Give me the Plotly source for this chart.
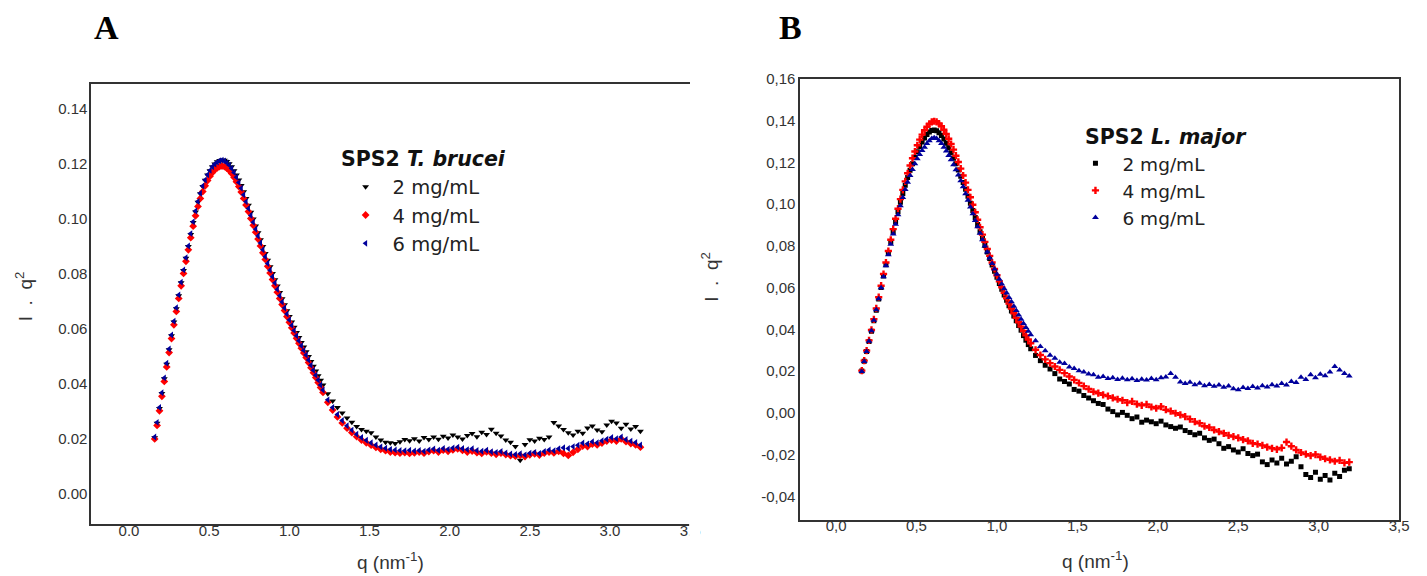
import plotly.graph_objects as go

# Scattering vector q (nm^-1), shared by both panels
Q = [
    0.160, 0.175, 0.190, 0.205, 0.220, 0.235, 0.250, 0.265, 0.280, 0.295, 0.310,
    0.325, 0.340, 0.355, 0.370, 0.385, 0.400, 0.415, 0.430, 0.445, 0.460, 0.475,
    0.490, 0.505, 0.520, 0.535, 0.550, 0.565, 0.580, 0.595, 0.610, 0.625, 0.640,
    0.655, 0.670, 0.685, 0.700, 0.715, 0.730, 0.745, 0.760, 0.775, 0.790, 0.805,
    0.820, 0.835, 0.850, 0.865, 0.880, 0.895, 0.910, 0.925, 0.940, 0.955, 0.970,
    0.985, 1.000, 1.015, 1.030, 1.045, 1.060, 1.075, 1.090, 1.105, 1.120, 1.135,
    1.150, 1.165, 1.180, 1.195, 1.210,
    1.24, 1.27, 1.30, 1.33, 1.36, 1.39, 1.42, 1.45, 1.48, 1.51, 1.54,
    1.57, 1.60, 1.63, 1.66, 1.69, 1.72, 1.75, 1.78, 1.81, 1.84, 1.87,
    1.90, 1.93, 1.96, 1.99, 2.02, 2.05, 2.08, 2.11, 2.14, 2.17, 2.20,
    2.23, 2.26, 2.29, 2.32, 2.35, 2.38, 2.41, 2.44, 2.47, 2.50, 2.53,
    2.56, 2.59, 2.62, 2.65, 2.68, 2.71, 2.74, 2.77, 2.80, 2.83, 2.86,
    2.89, 2.92, 2.95, 2.98, 3.01, 3.04, 3.07, 3.10, 3.13, 3.16, 3.19,
]

# Kratky values I.q^2 -- SPS2 T. brucei
TB_2 = [
    .0202, .0255, .0309, .0363, .0417, .0470, .0522, .0573, .0623, .0672, .0719,
    .0766, .0811, .0855, .0898, .0942, .0985, .1024, .1059, .1090, .1116, .1139,
    .1158, .1174, .1188, .1198, .1206, .1211, .1213, .1212, .1207, .1199, .1188,
    .1174, .1158, .1140, .1120, .1097, .1073, .1048, .1023, .0998, .0973, .0948,
    .0923, .0898, .0873, .0848, .0824, .0800, .0777, .0754, .0731, .0708, .0686,
    .0664, .0643, .0623, .0604, .0585, .0567, .0549, .0532, .0515, .0498, .0480,
    .0462, .0445, .0428, .0411, .0394,
    .0362, .0336, .0312, .0292, .0274, .0259, .0243, .0232, .0226, .0220, .0205,
    .0194, .0186, .0184, .0181, .0188, .0196, .0191, .0199, .0190, .0203, .0196,
    .0205, .0197, .0208, .0201, .0212, .0205, .0198, .0210, .0218, .0206, .0222,
    .0214, .0233, .0219, .0209, .0194, .0186, .0170, .0120, .0178, .0195, .0190,
    .0200, .0196, .0205, .0258, .0245, .0232, .0220, .0212, .0226, .0219, .0238,
    .0245, .0230, .0224, .0249, .0262, .0256, .0237, .0251, .0234, .0243, .0226,
]
TB_4 = [
    .0198, .0247, .0300, .0353, .0407, .0460, .0512, .0563, .0613, .0662, .0709,
    .0755, .0800, .0844, .0886, .0930, .0972, .1010, .1044, .1073, .1098, .1119,
    .1138, .1154, .1167, .1177, .1184, .1189, .1191, .1189, .1183, .1175, .1164,
    .1150, .1134, .1116, .1096, .1073, .1049, .1025, .1000, .0975, .0950, .0925,
    .0900, .0875, .0851, .0826, .0802, .0778, .0755, .0732, .0709, .0687, .0665,
    .0643, .0622, .0602, .0583, .0564, .0546, .0528, .0511, .0494, .0476, .0457,
    .0439, .0421, .0403, .0385, .0367,
    .0331, .0303, .0278, .0256, .0237, .0221, .0206, .0194, .0184, .0175, .0167,
    .0160, .0155, .0150, .0148, .0146, .0148, .0145, .0147, .0150, .0146, .0152,
    .0155, .0150, .0157, .0153, .0158, .0162, .0156, .0150, .0154, .0148, .0145,
    .0151, .0146, .0142, .0146, .0141, .0137, .0135, .0138, .0134, .0140, .0144,
    .0139, .0146, .0150, .0147, .0153, .0145, .0138, .0149, .0160, .0172, .0170,
    .0179, .0176, .0183, .0190, .0194, .0190, .0198, .0188, .0181, .0176, .0168,
]
TB_6 = [
    .0205, .0258, .0312, .0366, .0420, .0473, .0525, .0576, .0626, .0675, .0722,
    .0768, .0813, .0857, .0900, .0945, .0988, .1027, .1062, .1092, .1118, .1140,
    .1159, .1175, .1188, .1198, .1205, .1210, .1212, .1209, .1203, .1194, .1182,
    .1167, .1150, .1131, .1110, .1086, .1061, .1036, .1011, .0986, .0961, .0936,
    .0911, .0886, .0861, .0836, .0812, .0788, .0765, .0742, .0719, .0696, .0674,
    .0652, .0631, .0611, .0592, .0573, .0555, .0537, .0520, .0503, .0485, .0466,
    .0448, .0430, .0412, .0394, .0376,
    .0340, .0312, .0287, .0265, .0246, .0230, .0215, .0203, .0193, .0184, .0176,
    .0169, .0164, .0160, .0158, .0156, .0155, .0157, .0154, .0156, .0153, .0158,
    .0161, .0157, .0163, .0160, .0165, .0168, .0163, .0159, .0162, .0156, .0153,
    .0157, .0151, .0149, .0152, .0147, .0143, .0141, .0144, .0140, .0146, .0149,
    .0145, .0152, .0158, .0155, .0162, .0166, .0163, .0170, .0175, .0183, .0180,
    .0188, .0184, .0191, .0197, .0203, .0199, .0205, .0196, .0190, .0185, .0176,
]

# Kratky values I.q^2 -- SPS2 L. major
LM_2 = [
    .0200, .0247, .0294, .0342, .0391, .0441, .0492, .0545, .0600, .0655, .0710,
    .0765, .0818, .0868, .0917, .0964, .1009, .1051, .1090, .1127, .1162, .1194,
    .1224, .1251, .1276, .1298, .1317, .1333, .1345, .1353, .1355, .1351, .1342,
    .1329, .1312, .1292, .1270, .1246, .1220, .1193, .1164, .1134, .1103, .1071,
    .1038, .1004, .0970, .0936, .0902, .0868, .0835, .0802, .0770, .0739, .0708,
    .0678, .0649, .0620, .0592, .0565, .0539, .0513, .0488, .0464, .0441, .0418,
    .0396, .0370, .0348, .0327, .0307,
    .0275, .0250, .0228, .0210, .0188, .0162, .0150, .0138, .0112, .0104, .0083,
    .0071, .0058, .0045, .0040, .0018, .0006, -.0010, .0002, -.0012, -.0028, -.0020,
    -.0045, -.0035, -.0043, -.0052, -.0040, -.0058, -.0066, -.0074, -.0068, -.0085, -.0094,
    -.0105, -.0098, -.0120, -.0132, -.0126, -.0148, -.0170, -.0162, -.0178, -.0188, -.0172,
    -.0195, -.0205, -.0198, -.0235, -.0248, -.0226, -.0240, -.0218, -.0245, -.0232, -.0210,
    -.0258, -.0295, -.0310, -.0285, -.0318, -.0300, -.0322, -.0290, -.0305, -.0275, -.0268,
]
LM_4 = [
    .0202, .0250, .0298, .0347, .0397, .0448, .0500, .0554, .0609, .0665, .0720,
    .0775, .0829, .0880, .0930, .0978, .1024, .1068, .1109, .1148, .1185, .1220,
    .1252, .1282, .1309, .1333, .1354, .1371, .1385, .1394, .1397, .1394, .1386,
    .1373, .1356, .1336, .1313, .1288, .1261, .1232, .1202, .1170, .1137, .1103,
    .1068, .1033, .0997, .0961, .0925, .0889, .0854, .0819, .0785, .0752, .0720,
    .0689, .0659, .0630, .0602, .0575, .0549, .0524, .0500, .0477, .0455, .0434,
    .0413, .0392, .0371, .0351, .0333,
    .0302, .0277, .0256, .0238, .0222, .0206, .0190, .0174, .0158, .0143, .0128,
    .0114, .0101, .0094, .0086, .0080, .0072, .0065, .0060, .0049, .0055, .0042,
    .0036, .0040, .0028, .0022, .0030, .0015, .0008, -.0002, -.0010, -.0018, -.0030,
    -.0042, -.0050, -.0064, -.0070, -.0082, -.0090, -.0098, -.0108, -.0114, -.0120, -.0128,
    -.0134, -.0146, -.0150, -.0156, -.0164, -.0170, -.0175, -.0168, -.0140, -.0160, -.0178,
    -.0190, -.0198, -.0205, -.0200, -.0212, -.0220, -.0225, -.0232, -.0228, -.0240, -.0236,
]
LM_6 = [
    .0198, .0246, .0294, .0343, .0393, .0443, .0494, .0546, .0599, .0652, .0705,
    .0757, .0808, .0857, .0904, .0949, .0992, .1032, .1070, .1105, .1137, .1166,
    .1193, .1217, .1238, .1257, .1273, .1290, .1304, .1314, .1318, .1314, .1304,
    .1290, .1273, .1254, .1233, .1212, .1189, .1165, .1139, .1112, .1083, .1050,
    .1018, .0986, .0954, .0922, .0891, .0860, .0829, .0799, .0770, .0742, .0715,
    .0689, .0664, .0640, .0617, .0595, .0574, .0553, .0532, .0511, .0490, .0469,
    .0448, .0428, .0409, .0391, .0374,
    .0345, .0318, .0298, .0276, .0262, .0242, .0236, .0220, .0212, .0201, .0196,
    .0186, .0182, .0170, .0174, .0165, .0168, .0160, .0166, .0158, .0163, .0155,
    .0161, .0157, .0164, .0159, .0168, .0172, .0188, .0170, .0148, .0140, .0146,
    .0135, .0142, .0130, .0136, .0127, .0133, .0122, .0128, .0115, .0110, .0121,
    .0116, .0126, .0119, .0130, .0124, .0135, .0128, .0140, .0133, .0150, .0145,
    .0170, .0160, .0182, .0168, .0185, .0178, .0196, .0222, .0205, .0188, .0176,
]

CONC_LABELS = ["2 mg/mL", "4 mg/mL", "6 mg/mL"]
X_TICKS = [0.0, 0.5, 1.0, 1.5, 2.0, 2.5, 3.0, 3.5]
Y_TICKS_A = [0.00, 0.02, 0.04, 0.06, 0.08, 0.10, 0.12, 0.14]
Y_TICKS_B = [-0.04, -0.02, 0.00, 0.02, 0.04, 0.06, 0.08, 0.10, 0.12, 0.14, 0.16]

for series in (TB_2, TB_4, TB_6, LM_2, LM_4, LM_6):
    assert len(series) == len(Q)

W, H = 1427, 576
BLACK, RED, NAVY = "#000000", "#ff0000", "#00009c"
TICK_FONT = dict(family="Liberation Sans, Arial, sans-serif", size=15, color="#333333")
LEG_FONT = "DejaVu Sans, sans-serif"


def px(x):
    return x / W


def py(y):
    return 1 - y / H


fig = go.Figure()

panel_a = [(TB_2, BLACK, "triangle-down", 6), (TB_4, RED, "diamond", 6), (TB_6, NAVY, "triangle-left", 6)]
for (vals, col, sym, size), name in zip(panel_a, CONC_LABELS):
    fig.add_trace(go.Scatter(
        x=Q, y=vals, mode="markers", name=name, xaxis="x", yaxis="y", legend="legend",
        marker=dict(color=col, symbol=sym, size=size, line=dict(width=0)),
    ))

panel_b = [(LM_2, BLACK, "square", 5), (LM_4, RED, "cross", 6), (LM_6, NAVY, "triangle-up", 6)]
for (vals, col, sym, size), name in zip(panel_b, CONC_LABELS):
    fig.add_trace(go.Scatter(
        x=Q, y=vals, mode="markers", name=name, xaxis="x2", yaxis="y2", legend="legend2",
        marker=dict(color=col, symbol=sym, size=size, line=dict(width=0)),
    ))

axis_common = dict(
    showgrid=False, zeroline=False, showline=True, linecolor="#333333", linewidth=2,
    ticks="", tickfont=TICK_FONT,
)

fig.update_layout(
    width=W, height=H,
    margin=dict(l=0, r=0, t=0, b=0),
    paper_bgcolor="white", plot_bgcolor="white",
    xaxis=dict(
        axis_common, domain=[px(92), px(695)], range=[-0.235, 3.5], anchor="y",
        tickvals=X_TICKS, ticktext=[f"{v:.1f}" for v in X_TICKS], mirror=True,
        ticklabelstandoff=-8,
    ),
    yaxis=dict(
        axis_common, domain=[py(523), py(76)], range=[-0.0111, 0.149], anchor="x",
        tickvals=Y_TICKS_A, ticktext=[f"{v:.2f}" for v in Y_TICKS_A], mirror=False,
        ticklabelstandoff=-1,
    ),
    xaxis2=dict(
        axis_common, domain=[px(806), px(1409)], range=[-0.222, 3.5], anchor="y2",
        tickvals=X_TICKS, ticktext=[f"{v:.1f}".replace(".", ",") for v in X_TICKS], mirror=True,
        ticklabelstandoff=-9,
    ),
    yaxis2=dict(
        axis_common, domain=[py(519), py(71)], range=[-0.0513, 0.16], anchor="x2",
        tickvals=Y_TICKS_B, ticktext=[f"{v:.2f}".replace(".", ",") for v in Y_TICKS_B], mirror=True,
    ),
    legend=dict(
        x=px(341), y=py(161), xanchor="left", yanchor="top",
        font=dict(family=LEG_FONT, size=19.5, color="#222222"),
        bgcolor="rgba(0,0,0,0)", borderwidth=0, itemwidth=44, tracegroupgap=0,
    ),
    legend2=dict(
        x=px(1076), y=py(138), xanchor="left", yanchor="top",
        font=dict(family=LEG_FONT, size=18.5, color="#222222"),
        bgcolor="rgba(0,0,0,0)", borderwidth=0, itemwidth=44, tracegroupgap=0,
    ),
    showlegend=True,
)

# right half of the clipped 3.5 label on panel A
fig.add_shape(
    type="rect", xref="paper", yref="paper",
    x0=px(694), x1=px(705), y0=py(552), y1=py(520),
    fillcolor="white", line=dict(width=0), layer="above",
)

AX_TITLE_FONT = dict(family="Liberation Sans, Arial, sans-serif", size=19, color="#333333")
Y_TITLE = "I\u00a0\u00a0.\u00a0\u00a0q<sup>2</sup>"
annotations = [
    dict(text="<b>A</b>", x=px(107), y=py(19),
         font=dict(family="Liberation Serif, Times New Roman, serif", size=34, color="black")),
    dict(text="<b>B</b>", x=px(796), y=py(19),
         font=dict(family="Liberation Serif, Times New Roman, serif", size=34, color="black")),
    dict(text=Y_TITLE, x=px(25), y=py(292), textangle=-90, font=AX_TITLE_FONT),
    dict(text=Y_TITLE, x=px(715), y=py(272), textangle=-90, font=AX_TITLE_FONT),
    dict(text="q (nm<sup>-1</sup>)", x=px(393), y=py(561), font=AX_TITLE_FONT),
    dict(text="q (nm<sup>-1</sup>)", x=px(1103), y=py(560), font=AX_TITLE_FONT),
    dict(text="<b>SPS2 <i>T. brucei</i></b>", x=px(341), y=py(152), xanchor="left",
         font=dict(family=LEG_FONT, size=20.5, color="#111111")),
    dict(text="<b>SPS2 <i>L. major</i></b>", x=px(1091), y=py(130), xanchor="left",
         font=dict(family=LEG_FONT, size=20.5, color="#111111")),
]
for a in annotations:
    a.setdefault("xanchor", "center")
    a.setdefault("yanchor", "middle")
    a.update(xref="paper", yref="paper", showarrow=False)
fig.update_layout(annotations=annotations)

fig.write_html("out.html")
